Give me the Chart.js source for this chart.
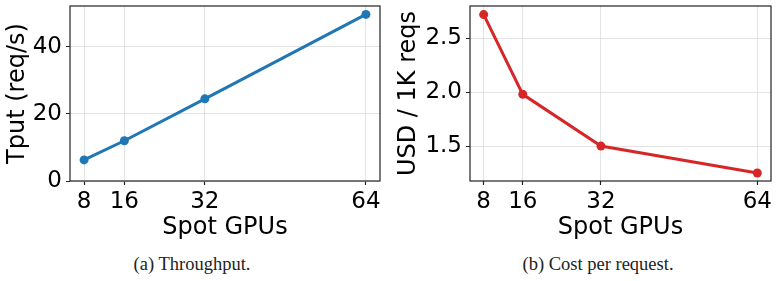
<!DOCTYPE html>
<html><head><meta charset="utf-8">
<script src="https://cdn.jsdelivr.net/npm/chart.js@4"></script>
<style>
html,body{margin:0;padding:0;background:#fff;width:779px;height:281px;overflow:hidden}
#ca{position:absolute;left:0;top:0}
#cb{position:absolute;left:390px;top:0}
.cap{position:absolute;top:254px;font-family:"Liberation Serif",serif;font-size:18.5px;color:#222;white-space:nowrap;transform:translateX(-50%)}
</style></head><body>
<canvas id="ca" width="390" height="250"></canvas>
<canvas id="cb" width="389" height="250"></canvas>
<div class="cap" style="left:192px">(a) Throughput.</div>
<div class="cap" style="left:598px">(b) Cost per request.</div>
<script>
const gpus = [8, 16, 32, 64];
const tput = [6.3, 12.0, 24.5, 49.7];
const cost = [2.72, 1.98, 1.50, 1.25];
const tputTicks = [0, 20, 40];
const costTicks = [1.5, 2.0, 2.5];
const costTickLabels = ['1.5', '2.0', '2.5'];
const xTickLabels = ['8', '16', '32', '64'];

const FONT = 'DejaVu Sans';
const boxPlugin = {
  id: 'box',
  afterDatasetsDraw(chart) {
    const {ctx, chartArea: a} = chart;
    ctx.save();
    ctx.strokeStyle = '#222';
    ctx.lineWidth = 1.2;
    ctx.strokeRect(a.left, a.top, a.right - a.left, a.bottom - a.top);
    ctx.restore();
  }
};

function grid() {
  return {color: '#dcdcdc', lineWidth: 0.8, borderDash: [2, 2], tickColor: '#222', tickLength: 4, tickBorderDash: [1, 0], tickWidth: 1.2};
}

function makeChart(id, ys, color, yTicks, yLabels, yMin, yMax, yTitle, yWidth, padRight, yTitlePad) {
  return new Chart(document.getElementById(id), {
    type: 'line',
    data: {datasets: [{
      data: gpus.map((g, i) => ({x: g, y: ys[i]})),
      borderColor: color, backgroundColor: color,
      borderWidth: 3, pointRadius: 4.5, pointHoverRadius: 4.5,
      pointBorderWidth: 0, tension: 0
    }]},
    options: {
      responsive: false, animation: false,
      layout: {padding: {top: 6, right: padRight, left: 0, bottom: 0}},
      plugins: {legend: {display: false}, tooltip: {enabled: false}},
      scales: {
        x: {
          type: 'linear', min: 5.2, max: 66.8,
          afterBuildTicks(s) { s.ticks = gpus.map(v => ({value: v})); },
          afterFit(s) { s.height = 69; s.paddingLeft = 0; s.paddingRight = 0; },
          ticks: {color: '#000', font: {family: FONT, size: 23}, padding: 3, maxRotation: 0,
                  callback: (v) => xTickLabels[gpus.indexOf(v)]},
          grid: grid(), border: {display: false},
          title: {display: true, text: 'Spot GPUs', color: '#000', font: {family: FONT, size: 24}, padding: {top: 0, bottom: 8}}
        },
        y: {
          type: 'linear', min: yMin, max: yMax,
          afterBuildTicks(s) { s.ticks = yTicks.map(v => ({value: v})); },
          afterFit(s) { s.width = yWidth; s.paddingTop = 0; s.paddingBottom = 0; },
          ticks: {color: '#000', font: {family: FONT, size: 23}, padding: 4,
                  callback: (v) => yLabels[yTicks.indexOf(v)]},
          grid: grid(), border: {display: false},
          title: {display: true, text: yTitle, color: '#000', font: {family: FONT, size: 24}, padding: {top: yTitlePad, bottom: 0}}
        }
      }
    },
    plugins: [boxPlugin]
  });
}

makeChart('ca', tput, '#1f77b4', tputTicks, tputTicks.map(String), 0, 52.2, 'Tput (req/s)', 70, 10, 3);
makeChart('cb', cost, '#d62728', costTicks, costTickLabels, 1.176, 2.80, 'USD / 1K reqs', 80, 8, 4);
</script>
</body></html>
